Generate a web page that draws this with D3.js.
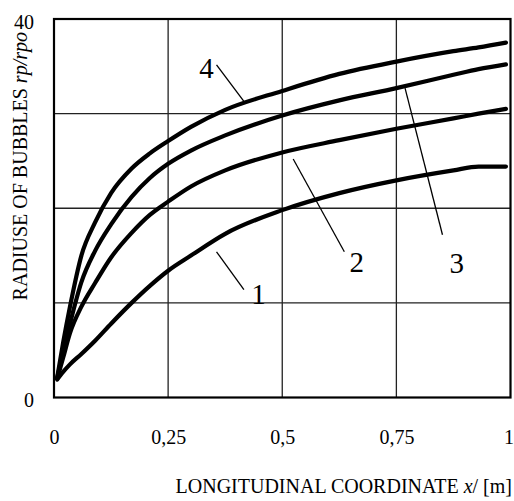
<!DOCTYPE html>
<html>
<head>
<meta charset="utf-8">
<script src="https://cdn.jsdelivr.net/npm/d3@7"></script>
<style>
  body { margin: 0; background: #fff; }
  svg text { font-family: "Liberation Serif", "Times New Roman", serif; fill: #000; }
</style>
</head>
<body>
<svg id="chart" width="514" height="501"></svg>
<script>
// values
const xValues = [0.007, 0.02, 0.035, 0.06, 0.09, 0.125, 0.17, 0.21, 0.25, 0.3, 0.375, 0.5, 0.625, 0.75, 0.875, 0.93, 0.99]
const curve1 = [1.9, 2.7, 3.5, 4.6, 6.0, 7.8, 10.0, 11.8, 13.4, 15.0, 17.3, 19.8, 21.6, 22.95, 24.0, 24.4, 24.4]
const curve2 = [2.0, 4.2, 6.8, 9.6, 12.1, 14.8, 17.4, 19.3, 20.7, 22.3, 24.0, 25.9, 27.2, 28.4, 29.5, 30.0, 30.5]
const curve3 = [2.1, 4.8, 7.8, 12.2, 15.5, 18.3, 21.2, 23.2, 24.7, 26.1, 27.7, 29.8, 31.4, 32.7, 34.1, 34.7, 35.2]
const curve4 = [2.1, 5.8, 9.6, 15.0, 18.5, 21.6, 24.2, 25.8, 27.1, 28.6, 30.4, 32.4, 34.2, 35.5, 36.6, 37.0, 37.5]
const seriesList = [curve1, curve2, curve3, curve4]

const xTicks = [0, 0.25, 0.5, 0.75, 1]
const yTickLabels = [0, 40]
const yGrid = [10, 20, 30]

// curve numbers and leader lines, in data units
const labels = ['1', '2', '3', '4']
const labelAt = [[0.448, 11.0], [0.663, 14.35], [0.882, 14.2], [0.334, 34.8]]
const leaderFrom = [[0.356, 15.4], [0.524, 25.2], [0.769, 32.7], [0.356, 35.15]]
const leaderTo = [[0.416, 11.4], [0.636, 15.4], [0.851, 17.2], [0.416, 31.3]]

const margin = { top: 19, right: 3.5, bottom: 103.5, left: 54 }
const width = 514 - margin.left - margin.right
const height = 501 - margin.top - margin.bottom

const svg = d3.select('#chart')
const g = svg.append('g').attr('transform', `translate(${margin.left},${margin.top})`)

const x = d3.scaleLinear().domain([0, 1]).range([0, width])
const y = d3.scaleLinear().domain([0, 40]).range([height, 0])

// grid
g.selectAll('.vgrid')
  .data(xTicks.slice(1, -1))
  .enter().append('line')
  .attr('x1', d => x(d)).attr('x2', d => x(d))
  .attr('y1', 0).attr('y2', height)
  .attr('stroke', '#222').attr('stroke-width', 1.3)

g.selectAll('.hgrid')
  .data(yGrid)
  .enter().append('line')
  .attr('x1', 0).attr('x2', width)
  .attr('y1', d => y(d)).attr('y2', d => y(d))
  .attr('stroke', '#222').attr('stroke-width', 1.3)

// x axis labels
const xAxis = d3.axisBottom(x)
  .tickValues(xTicks)
  .tickSize(0)
  .tickPadding(32)
  .tickFormat(d => String(d).replace('.', ','))
g.append('g')
  .attr('transform', `translate(0,${height})`)
  .call(xAxis)
  .call(a => a.select('.domain').remove())
  .selectAll('text')
  .attr('dx', d => d === 1 ? -2 : 0)
  .style('font-size', '20px')
  .style('font-family', '"Liberation Serif", serif')

// y axis labels
const yAxis = d3.axisLeft(y)
  .tickValues(yTickLabels)
  .tickSize(0)
  .tickPadding(20)
  .tickFormat(d3.format('d'))
g.append('g')
  .call(yAxis)
  .call(a => a.select('.domain').remove())
  .selectAll('text')
  .attr('dy', '0.45em')
  .style('font-size', '20px')
  .style('font-family', '"Liberation Serif", serif')

// frame
g.append('rect')
  .attr('width', width).attr('height', height)
  .attr('fill', 'none').attr('stroke', '#000').attr('stroke-width', 2.2)

// curves
const line = d3.line()
  .x((d, i) => x(xValues[i]))
  .y(d => y(d))
  .curve(d3.curveMonotoneX)

g.selectAll('.curve')
  .data(seriesList)
  .enter().append('path')
  .attr('d', line)
  .attr('fill', 'none')
  .attr('stroke', '#000')
  .attr('stroke-width', 4.2)
  .attr('stroke-linecap', 'round')
  .attr('stroke-linejoin', 'round')

// leader lines
g.selectAll('.leader')
  .data(labels)
  .enter().append('line')
  .attr('x1', (d, i) => x(leaderFrom[i][0]))
  .attr('y1', (d, i) => y(leaderFrom[i][1]))
  .attr('x2', (d, i) => x(leaderTo[i][0]))
  .attr('y2', (d, i) => y(leaderTo[i][1]))
  .attr('stroke', '#000').attr('stroke-width', 1.3)

g.selectAll('.clabel')
  .data(labels)
  .enter().append('text')
  .attr('x', (d, i) => x(labelAt[i][0]))
  .attr('y', (d, i) => y(labelAt[i][1]))
  .attr('text-anchor', 'middle')
  .attr('dy', '0.35em')
  .style('font-size', '29px')
  .text(d => d)

// axis titles
const xTitle = svg.append('text')
  .attr('x', 512)
  .attr('y', 493)
  .attr('text-anchor', 'end')
  .style('font-size', '20px')
xTitle.append('tspan').text('LONGITUDINAL COORDINATE ')
xTitle.append('tspan').style('font-style', 'italic').text('x')
xTitle.append('tspan').text('/ [m]')

const yTitle = svg.append('text')
  .attr('transform', 'translate(27,32) rotate(-90)')
  .attr('text-anchor', 'end')
  .style('font-size', '20px')
yTitle.append('tspan').text('RADIUSE OF BUBBLES  ')
yTitle.append('tspan').style('font-style', 'italic').text('rp/rpo')
</script>
</body>
</html>
